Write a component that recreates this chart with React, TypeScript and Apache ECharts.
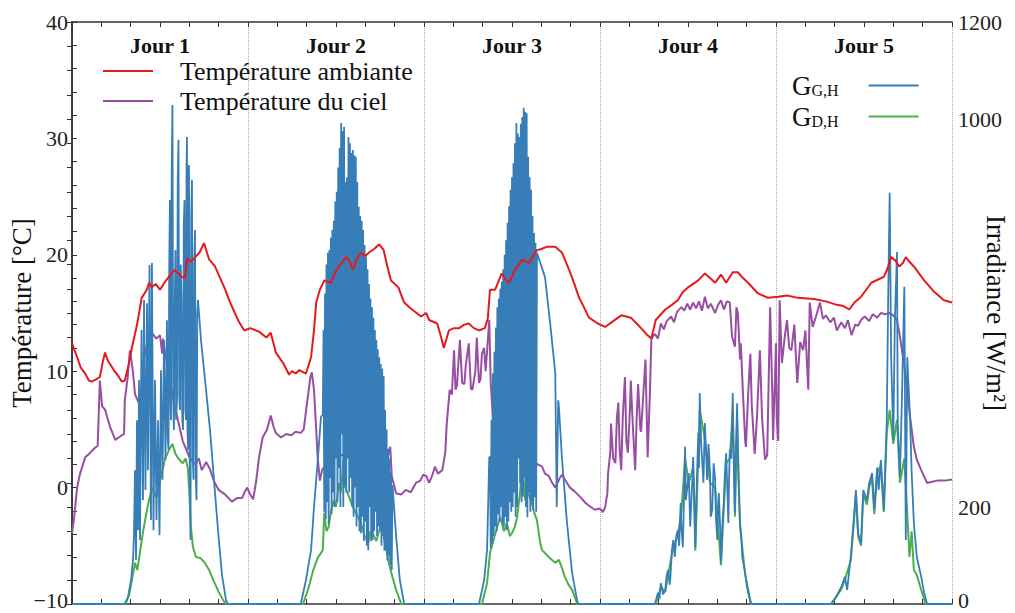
import React, { useEffect, useRef } from "react";
import * as echarts from "echarts";

// time in hours (0..120, 5 days)
const dayLabels = ["Jour 1", "Jour 2", "Jour 3", "Jour 4", "Jour 5"];
const hoursMax = 120;

const ambientTemp: number[][] = [
  [0,12.4],[0.7,11.2],[1.2,10.3],[1.8,9.8],[2.3,9.2],[2.7,9.1],[3.3,9.3],[3.8,9.5],[4.2,10.8],[4.5,11.6],[4.9,10.9],[5.7,10.1],[6.3,9.6],[6.8,9.1],[7.2,9.2],[7.7,10.5],[8.2,12.1],[8.9,14.1],[9.5,16.3],[10.2,17.0],[10.5,17.6],[10.9,17.2],[11.4,17.5],[12.0,17.0],[12.6,17.6],[13.2,18.1],[14.0,18.7],[14.5,18.4],[15.0,18.1],[15.4,18.0],[15.7,19.7],[16.2,19.4],[16.8,19.8],[17.4,20.2],[18.0,21.0],[18.7,19.6],[19.5,19.0],[20.2,18.0],[20.9,17.0],[21.5,16.0],[22.2,15.0],[22.8,14.2],[23.5,13.5],
  [24.3,13.7],[25.5,13.4],[26.5,12.9],[27.1,13.3],[27.8,11.6],[28.8,10.7],[29.6,9.7],[30.0,10.0],[30.5,9.8],[31.0,10.1],[31.9,9.8],[32.6,11.2],[33.0,13.5],[33.3,15.9],[33.8,17.0],[34.4,17.8],[35.3,17.6],[35.9,18.5],[36.4,19.0],[37.4,19.8],[37.9,19.4],[38.3,18.7],[38.8,19.6],[39.4,20.2],[40.0,19.9],[40.5,20.2],[41.2,20.5],[41.9,20.9],[42.5,20.4],[43.0,19.0],[43.5,17.8],[44.5,17.2],[45.3,15.9],[46.0,15.5],[46.6,15.2],[47.6,14.7],
  [48.3,15.0],[48.7,14.4],[49.8,14.1],[50.3,13.0],[50.7,12.0],[51.4,13.5],[52.1,13.7],[52.8,13.7],[53.5,14.0],[54.1,14.1],[54.8,13.7],[55.5,13.5],[56.3,13.7],[56.7,14.5],[57.0,17.0],[57.7,17.0],[58.6,18.4],[59.1,17.9],[59.6,17.6],[60.4,18.7],[61.4,19.6],[62.3,19.3],[63.4,20.4],[64.0,20.5],[64.8,20.7],[65.9,20.7],[66.8,20.2],[67.8,18.7],[68.5,17.5],[69.1,16.4],[69.8,15.5],[70.5,14.6],[71.7,14.1],
  [72.7,13.8],[73.8,14.3],[74.9,14.8],[76.2,14.6],[77.0,14.1],[77.6,13.7],[78.3,13.2],[79.0,12.8],[79.6,14.4],[80.9,15.3],[81.8,15.7],[82.6,16.1],[83.3,16.8],[84.0,17.2],[85.4,17.8],[86.3,18.4],[87.0,18.0],[87.7,17.6],[88.5,18.3],[89.2,17.6],[90.1,18.5],[90.8,18.5],[91.5,18.0],[92.2,17.6],[93.5,16.7],[94.9,16.3],
  [96.3,16.4],[97.5,16.5],[99.0,16.3],[101.2,16.2],[102.8,16.0],[104.3,15.7],[105.2,15.6],[106.0,15.3],[106.7,15.9],[107.6,16.4],[108.3,17.0],[109.0,17.6],[110.0,17.9],[110.7,18.1],[111.2,18.8],[111.7,19.8],[112.3,19.5],[112.8,19.0],[113.3,19.3],[113.7,19.8],[114.2,19.4],[114.8,19.0],[115.5,18.4],[116.2,17.8],[117.6,16.8],[118.9,16.1],[120,15.9]
];

const skyTemp: number[][] = [
  [0,-3.9],[0.3,-2.5],[0.7,0.0],[1.1,1.2],[1.8,2.6],[2.5,3.0],[3.1,3.4],[3.5,3.6],[3.8,9.2],[4.1,7.0],[4.5,6.7],[5.2,5.2],[5.9,4.1],[6.8,4.5],[7.1,4.6],[7.2,7.5],[7.6,9.5],[7.9,11.8],[8.3,10.0],[8.6,8.0],[9.3,7.0],[9.8,11.0],[10.4,12.9],[10.9,13.3],[11.5,12.8],[12.0,13.1],[12.3,11.5],[12.4,12.8],[13.1,10.0],[14.0,7.0],[15.1,4.0],[16.1,2.5],[16.8,2.0],[17.3,2.5],[17.7,1.5],[18.3,2.2],[18.8,1.6],[19.4,0.5],[20.0,-0.2],[20.9,-0.6],[21.8,-1.2],[22.5,-0.9],[23.2,-0.9],[23.6,-0.3],[23.9,0.0],[24.3,-0.6],
  [24.7,-1.0],[25.1,0.5],[25.5,2.6],[26.0,4.3],[26.6,5.0],[27.1,6.2],[27.5,5.2],[27.8,4.7],[28.5,4.3],[29.2,4.6],[29.9,4.5],[30.5,4.8],[31.2,4.7],[31.6,5.0],[32.0,7.0],[32.5,9.5],[32.7,9.9],[33.0,8.4],[33.3,5.0],[33.5,2.6],[33.8,0.6],[34.1,1.5],[35.2,2.5],[37.9,3.0],[40.0,2.5],[40.5,1.2],[41.0,2.5],[41.5,3.8],[42.0,2.0],[42.5,1.5],[43.0,2.5],[43.4,3.5],[43.6,1.0],[44.2,-0.5],[44.9,-0.6],[45.5,-0.2],[46.2,-0.4],[46.9,0.4],[47.5,0.6],[47.9,1.1],
  [48.3,1.0],[48.7,0.4],[49.1,1.0],[49.5,1.8],[49.9,1.2],[50.5,1.5],[50.9,3.0],[51.1,5.5],[51.5,8.4],[51.8,8.0],[52.1,11.8],[52.3,8.4],[52.5,8.8],[52.9,12.7],[53.2,9.0],[53.5,8.9],[53.7,10.5],[54.1,12.4],[54.4,8.5],[54.6,8.4],[55.0,10.0],[55.2,12.9],[55.5,9.0],[55.7,9.3],[55.9,11.5],[56.2,12.0],[56.4,10.0],[56.9,14.4],[57.1,9.0],[57.4,6.0],[59.7,3.0],[62.5,2.5],[63.5,2.0],[64.1,1.8],[64.5,1.2],[65.0,1.0],[65.5,0.4],[65.9,0.0],[66.5,0.8],[66.8,1.1],[67.4,0.5],[67.9,0.0],[68.5,-0.3],[69.3,-0.8],[70.0,-1.3],[70.6,-1.6],[71.3,-1.9],[72.0,-1.8],
  [72.4,-2.1],[72.7,-1.7],[73.0,-0.5],[73.1,1.2],[73.4,3.0],[73.5,5.5],[73.8,2.5],[74.1,2.1],[74.3,6.0],[74.5,7.3],[74.7,3.0],[74.9,1.5],[75.1,6.0],[75.4,9.5],[75.6,4.0],[75.8,3.0],[76.1,7.0],[76.2,9.2],[76.5,5.0],[76.8,1.5],[77.0,6.0],[77.2,8.9],[77.5,5.0],[77.6,4.8],[77.9,8.0],[78.2,11.0],[78.4,5.5],[78.5,2.6],[78.8,8.0],[79.0,12.7],[79.2,13.0],[79.5,13.2],[79.9,12.8],[80.3,14.1],[80.7,13.6],[81.1,14.3],[81.7,14.7],[82.1,14.2],[82.5,15.1],[83.1,15.5],[83.5,15.2],[83.9,15.8],[84.3,15.3],[84.7,15.9],[85.1,15.4],[85.5,16.0],[85.9,15.2],[86.3,16.4],[86.7,15.4],[87.1,15.8],[87.7,15.0],[88.1,15.7],[88.5,16.1],[88.9,15.3],[89.3,16.0],[89.7,15.9],[90.0,13.0],[90.4,12.1],[90.6,15.5],[90.8,15.0],[91.1,11.0],[91.2,12.4],[91.5,8.0],[91.8,4.0],[91.9,3.5],[92.2,8.0],[92.5,11.5],[92.7,7.0],[93.1,2.9],[93.4,6.0],[93.8,11.8],[94.1,6.0],[94.5,2.4],[94.8,2.8],[95.2,15.5],[95.5,8.0],[95.6,4.1],[96.0,12.4],[96.1,6.0],[96.3,4.0],
  [96.5,16.1],[96.8,10.7],[97.2,13.0],[97.5,14.4],[97.8,12.0],[98.1,11.8],[98.5,14.0],[98.9,9.0],[99.3,12.5],[99.7,11.8],[100.0,13.5],[100.4,8.4],[100.6,15.9],[101.0,13.8],[101.5,14.8],[102.0,15.9],[102.4,14.5],[102.8,14.8],[103.4,14.2],[103.9,14.6],[104.3,13.5],[104.9,14.2],[105.4,13.7],[105.8,14.4],[106.3,13.1],[106.8,14.0],[107.2,13.9],[107.6,14.4],[108.1,14.7],[108.7,14.3],[109.2,14.9],[109.8,14.6],[110.3,15.0],[110.9,14.9],[111.4,15.0],[112.0,14.8],[112.5,14.4],[112.9,13.0],[113.6,10.0],[114.3,6.0],[114.8,3.5],[115.2,2.4],[115.8,1.5],[116.6,0.4],[117.3,0.5],[118.0,0.6],[119.0,0.6],[120,0.7]
];

const ghi: number[][] = [
  [0,0],[7.2,0],[7.64,14],[8.05,49],[8.32,91],[8.45,142],[8.59,276],[8.73,91],[8.86,379],[9.0,152],[9.14,462],[9.27,132],[9.48,565],[9.68,214],[9.82,627],[10.02,235],[10.23,620],[10.36,276],[10.57,699],[10.77,173],[10.9,703],[11.11,152],[11.32,462],[11.52,173],[11.73,379],[11.93,142],[12.14,482],[12.34,256],[12.55,544],[12.75,297],[12.95,585],[13.06,340],[13.16,318],[13.26,700],[13.36,833],[13.43,420],[13.5,379],[13.6,900],[13.7,1029],[13.8,420],[13.9,359],[14.0,600],[14.11,730],[14.2,380],[14.32,421],[14.42,880],[14.52,957],[14.62,430],[14.73,400],[14.83,700],[14.93,627],[15.04,380],[15.14,359],[15.24,780],[15.34,833],[15.45,400],[15.55,379],[15.62,900],[15.68,963],[15.75,360],[15.82,318],[15.88,860],[15.95,905],[16.05,300],[16.16,132],[16.26,800],[16.36,874],[16.47,300],[16.57,256],[16.67,700],[16.77,771],[16.88,260],[16.98,214],[17.08,600],[17.18,627],[17.59,544],[18.14,462],[18.82,359],[19.36,256],[19.91,152],[20.45,60],[21.0,8],[21.27,0],
  [31.2,0],[31.9,49],[32.6,111],[33.0,200],[33.55,303],[33.95,386],
  [34.2,390],[34.3,565],[34.4,190],[34.5,640],[34.6,175],[34.7,700],[34.8,210],[34.9,724],[35.0,165],[35.1,730],[35.2,260],[35.3,755],[35.4,185],[35.5,771],[35.6,230],[35.7,790],[35.8,200],[35.9,830],[36.0,300],[36.1,850],[36.2,210],[36.3,900],[36.4,280],[36.5,940],[36.6,200],[36.7,992],[36.8,350],[36.9,975],[37.0,200],[37.1,984],[37.2,240],[37.3,870],[37.4,230],[37.5,880],[37.6,300],[37.7,963],[37.8,230],[37.9,950],[38.0,260],[38.1,930],[38.2,200],[38.3,936],[38.4,180],[38.5,925],[38.6,240],[38.7,922],[38.8,160],[38.9,870],[39.0,200],[39.1,819],[39.2,150],[39.3,800],[39.4,146],[39.5,790],[39.6,180],[39.7,771],[39.8,130],[39.9,740],[40.0,170],[40.1,716],[40.2,120],[40.3,690],[40.4,111],[40.5,660],[40.6,200],[40.7,630],[40.8,130],[40.9,612],[41.0,132],[41.1,590],[41.2,150],[41.3,565],[41.4,190],[41.5,545],[41.6,140],[41.7,525],[41.8,160],[41.9,509],[42.0,150],[42.1,495],[42.2,120],[42.3,485],[42.4,140],[42.5,470],[42.6,110],[42.7,400],[42.8,111],[42.9,360],[43.0,90],[43.1,320],[43.2,100],[43.3,300],[43.4,80],[43.5,270],[43.6,70],[43.7,245],[44.2,140],[44.7,50],[45.3,0],
  [55.5,0],[56.2,49],[56.6,111],[56.9,303],
  [57.0,303],[57.1,115],[57.2,380],[57.3,125],[57.4,476],[57.5,140],[57.6,520],[57.7,160],[57.8,570],[57.9,150],[58.0,612],[58.1,185],[58.2,630],[58.3,170],[58.4,650],[58.5,200],[58.6,665],[58.7,167],[58.8,690],[58.9,160],[59.0,720],[59.1,180],[59.2,750],[59.3,152],[59.4,786],[59.5,170],[59.6,820],[59.7,210],[59.8,854],[59.9,190],[60.0,880],[60.1,200],[60.2,909],[60.3,230],[60.4,950],[60.5,180],[60.6,992],[60.7,200],[60.8,970],[60.9,300],[61.0,963],[61.1,249],[61.2,990],[61.3,210],[61.4,1004],[61.5,221],[61.6,1023],[61.7,260],[61.8,1015],[61.9,200],[62.0,1012],[62.1,179],[62.2,922],[62.3,230],[62.4,880],[62.5,190],[62.6,854],[62.7,210],[62.8,800],[62.9,194],[63.0,765],[63.1,220],[63.2,745],[63.3,190],[63.4,724],
  [64.5,674],[65.2,579],[65.9,476],[66.1,200],[66.3,420],[66.4,406],[66.8,303],[67.5,167],[68.2,64],[68.9,5],[69.1,0],
  [79.5,0],[79.9,23],[80.1,10],[80.3,43],[80.6,20],[80.9,29],[81.1,60],[81.3,70],[81.5,40],[81.6,55],[81.8,110],[82.0,132],[82.2,97],[82.4,140],[82.6,152],[82.8,120],[83.0,208],[83.1,160],[83.3,117],[83.5,250],[83.6,324],[83.7,214],[83.9,240],[84.1,270],[84.3,160],[84.4,194],[84.6,260],[84.7,303],[84.9,200],[85.0,117],[85.2,250],[85.4,353],[85.5,280],[85.6,435],[85.8,330],[85.9,303],[86.1,250],[86.3,373],[86.5,300],[86.6,256],[86.8,330],[87.0,270],[87.1,180],[87.3,194],[87.5,290],[87.7,256],[87.8,180],[88.0,132],[88.1,200],[88.2,229],[88.4,150],[88.5,85],[88.7,170],[88.9,214],[89.0,260],[89.2,311],[89.4,220],[89.5,167],[89.6,260],[89.7,318],[89.9,300],[90.1,435],[90.2,330],[90.4,188],[90.5,300],[90.7,414],[90.8,300],[91.0,200],[91.1,167],[91.3,130],[91.4,97],[91.6,80],[91.8,64],[92.0,40],[92.2,23],[92.6,0],
  [103.5,0],[104.2,14],[104.9,35],[105.4,56],[105.7,29],[106.2,97],[106.6,173],[106.9,235],[107.2,146],[107.6,126],[107.9,235],[108.4,214],[108.7,249],[109.1,270],[109.4,194],[109.8,282],[110.0,235],[110.3,297],[110.7,194],[111.1,373],[111.3,633],[111.5,848],[111.7,509],[112.0,338],[112.2,579],[112.5,726],[112.6,373],[112.9,262],[113.2,441],[113.5,654],[113.7,132],[113.9,509],[114.3,373],[114.5,270],[114.8,167],[115.2,97],[115.8,56],[116.2,23],[116.6,0],[120,0]
];

const dhi: number[][] = [
  [0,0],[7.3,0],[7.8,20],[8.3,60],[8.6,85],[8.9,70],[9.3,110],[9.7,150],[10.3,200],[10.9,240],[11.5,220],[12.1,260],[12.7,300],[13.3,320],[13.7,330],[14.1,310],[14.5,300],[15.1,290],[15.5,300],[15.8,280],[16.0,230],[16.2,160],[16.5,117],[16.9,97],[17.5,95],[18.1,85],[18.7,70],[19.4,45],[20.0,25],[20.6,8],[21.0,0],
  [31.5,0],[32.2,30],[32.9,70],[33.5,95],[34.2,111],[34.4,188],[34.7,150],[35.0,159],[35.3,190],[35.7,214],[36.0,200],[36.4,249],[36.7,230],[37.0,297],[37.2,250],[37.4,235],[37.8,220],[38.3,200],[38.8,185],[39.4,167],[39.9,140],[40.4,126],[40.7,150],[41.0,146],[41.5,130],[41.9,152],[42.2,170],[42.5,138],[42.9,110],[43.2,85],[43.7,55],[44.2,29],[44.9,0],
  [55.9,0],[56.6,43],[57.0,105],[57.6,138],[58.0,160],[58.4,179],[58.9,150],[59.3,167],[59.7,140],[60.0,146],[60.4,160],[60.7,179],[61.1,230],[61.4,297],[61.8,214],[62.2,230],[62.7,208],[63.0,190],[63.4,173],[63.8,130],[64.1,111],[64.5,105],[65.0,97],[65.5,90],[65.9,85],[66.4,91],[66.8,75],[67.2,56],[67.7,40],[68.2,29],[68.9,0],
  [79.6,0],[80.3,35],[80.9,25],[81.3,60],[82.0,120],[82.6,140],[83.1,190],[83.6,300],[84.1,250],[84.7,280],[85.0,110],[85.6,400],[86.3,340],[87.0,250],[87.7,240],[88.5,80],[89.2,290],[89.7,300],[90.1,400],[90.4,180],[90.7,380],[91.1,160],[91.8,60],[92.6,0],
  [103.5,0],[104.9,30],[105.4,50],[106.2,90],[106.6,165],[106.9,225],[107.2,140],[107.6,120],[107.9,225],[108.4,205],[108.7,240],[109.1,260],[109.4,185],[109.8,270],[110.3,285],[110.7,190],[111.1,353],[111.5,400],[112.0,330],[112.5,380],[112.9,250],[113.5,300],[113.9,188],[114.2,97],[114.5,150],[114.8,70],[115.2,60],[115.8,29],[116.4,0],[120,0]
];

const SERIF = '"Liberation Serif", "Times New Roman", serif';
const AXIS = "#333";

export default function App() {
  const ref = useRef<HTMLDivElement>(null);
  useEffect(() => {
    if (!ref.current) return;
    const chart = echarts.init(ref.current, undefined, { renderer: "svg" });
    const xBase = {
      type: "value",
      min: 0,
      max: hoursMax,
      interval: 4,
      gridIndex: 0,
      axisLine: { show: true, onZero: false, lineStyle: { color: AXIS, width: 1.5 } },
      axisTick: { show: true, inside: true, length: 5, lineStyle: { color: AXIS, width: 1 } },
      axisLabel: { show: false },
      splitLine: { show: false },
    };
    const lowRich = { lo: { fontFamily: SERIF, fontSize: 22, color: "#222", lineHeight: 16, padding: [0, 0, 8, 0] } };
    chart.setOption({
      animation: false,
      backgroundColor: "#fff",
      textStyle: { fontFamily: SERIF },
      grid: { left: 72, top: 22, width: 880, height: 582, containLabel: false, outerBoundsMode: "none" },
      legend: [
        {
          data: ["Température ambiante", "Température du ciel"],
          orient: "vertical",
          left: 98,
          top: 53,
          icon: "rect",
          itemWidth: 50,
          itemHeight: 2,
          itemGap: 4,
          textStyle: { fontFamily: SERIF, fontSize: 26, color: "#111", lineHeight: 25, padding: [0, 0, 0, 22] },
        },
        {
          data: ["G_G,H", "G_D,H"],
          orient: "vertical",
          left: 787,
          top: 67,
          align: "right",
          icon: "rect",
          itemWidth: 50,
          itemHeight: 2,
          itemGap: 4,
          formatter: (n: string) => "{m|G}{s|" + n.slice(2) + "}",
          textStyle: {
            fontFamily: SERIF,
            color: "#111",
            padding: [0, 25, 0, 0],
            rich: {
              m: { fontFamily: SERIF, fontSize: 27, color: "#111", lineHeight: 25 },
              s: { fontFamily: SERIF, fontSize: 16, color: "#111", padding: [10, 0, 0, 0] },
            },
          },
        },
      ],
      xAxis: [
        { ...xBase, position: "bottom" },
        { ...xBase, position: "top" },
        {
          type: "value", min: 0, max: hoursMax, interval: 24, position: "bottom",
          axisLine: { show: false }, axisTick: { show: false }, axisLabel: { show: false },
          splitLine: { show: true, lineStyle: { type: "dotted", color: "#a8a8a8", width: 1 } },
        },
        {
          type: "value", min: 0, max: hoursMax, interval: 12, position: "top",
          axisLine: { show: false }, axisTick: { show: false }, splitLine: { show: false },
          axisLabel: {
            show: true, inside: true, margin: 12,
            fontFamily: SERIF, fontSize: 22, fontWeight: "bold", color: "#111",
            formatter: (v: number) => (v % 24 === 12 ? dayLabels[Math.floor(v / 24)] : ""),
          },
        },
      ],
      yAxis: [
        {
          type: "value", min: -10, max: 40, interval: 10, position: "left",
          name: "Température [°C]", nameLocation: "middle", nameGap: 37, nameMoveOverlap: false,
          nameTextStyle: { fontFamily: SERIF, fontSize: 27, color: "#111" },
          axisLine: { show: true, lineStyle: { color: AXIS, width: 1.5 } },
          axisTick: { show: true, inside: true, length: 5, lineStyle: { color: AXIS } },
          minorTick: { show: true, splitNumber: 5, length: 5, lineStyle: { color: AXIS } },
          axisLabel: {
            fontFamily: SERIF, fontSize: 22, color: "#222", margin: 4, lineHeight: 16,
            rich: lowRich,
            formatter: (v: number) =>
              v === -10 ? "{lo|\u221210}" : v < 0 ? "\u2212" + Math.abs(v) : String(v),
          },
          splitLine: { show: false },
        },
        {
          type: "value", min: 0, max: 1200, interval: 200, position: "right",
          name: "Irradiance [W/m²]", nameLocation: "middle", nameGap: 30, nameRotate: -90, nameMoveOverlap: false,
          nameTextStyle: { fontFamily: SERIF, fontSize: 27, color: "#111" },
          axisLine: { show: true, lineStyle: { color: AXIS, width: 1.5 } },
          axisTick: { show: true, inside: true, length: 5, lineStyle: { color: AXIS } },
          minorTick: { show: true, splitNumber: 4, length: 5, lineStyle: { color: AXIS } },
          axisLabel: {
            fontFamily: SERIF, fontSize: 22, color: "#222", margin: 6, lineHeight: 16,
            rich: lowRich,
            formatter: (v: number) =>
              v === 0 ? "{lo|0}" : v === 400 || v === 600 || v === 800 ? "" : String(v),
          },
          splitLine: { show: false },
        },
      ],
      series: [
        {
          name: "Température du ciel", type: "line", xAxisIndex: 0, yAxisIndex: 0,
          data: skyTemp, showSymbol: false, z: 2,
          itemStyle: { color: "#984ea3" }, lineStyle: { color: "#984ea3", width: 2 },
        },
        {
          name: "G_D,H", type: "line", xAxisIndex: 0, yAxisIndex: 1,
          data: dhi, showSymbol: false, z: 3,
          itemStyle: { color: "#4daf4a" }, lineStyle: { color: "#4daf4a", width: 2 },
        },
        {
          name: "G_G,H", type: "line", xAxisIndex: 0, yAxisIndex: 1,
          data: ghi, showSymbol: false, z: 4,
          itemStyle: { color: "#377eb8" }, lineStyle: { color: "#377eb8", width: 1.8 },
        },
        {
          name: "Température ambiante", type: "line", xAxisIndex: 0, yAxisIndex: 0,
          data: ambientTemp, showSymbol: false, z: 5,
          itemStyle: { color: "#e41a1c" }, lineStyle: { color: "#e41a1c", width: 2 },
        },
      ],
    });
    return () => chart.dispose();
  }, []);
  return (
    <div
      ref={ref}
      style={{ position: "absolute", left: 0, top: 0, width: 1015, height: 613, background: "#fff" }}
    />
  );
}
